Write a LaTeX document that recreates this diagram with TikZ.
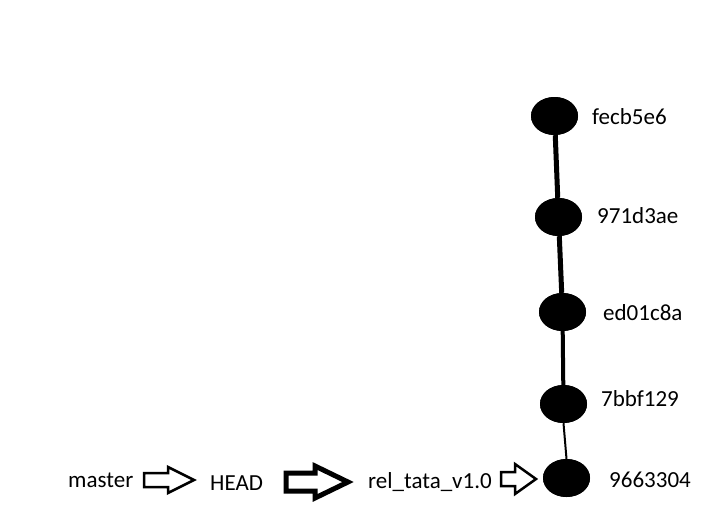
\documentclass[tikz,border=0pt]{standalone}
\usepackage{fontspec}
\setmainfont{Carlito}
\usetikzlibrary{shapes.geometric}
\tikzset{
  commit/.style={ellipse, fill=black, draw=none, minimum width=47pt, minimum height=38pt, inner sep=0pt},
  lbl/.style={anchor=base west, inner sep=0pt, font=\fontsize{23}{27}\selectfont},
  link/.style={draw=black},
  thinarrow/.style={draw=black, line width=2.5pt, line join=miter},
  thickarrow/.style={draw=black, line width=5pt, line join=miter}
}
\begin{document}
\begin{tikzpicture}[x=1pt,y=-1pt]
\useasboundingbox (0,0) rectangle (718,515);
\node[commit] (c1) at (554.5,116) {};
\node[commit] (c2) at (558.5,217) {};
\node[commit] (c3) at (562.5,312) {};
\node[commit] (c4) at (563.5,404) {};
\node[commit] (c5) at (566.5,478) {};
\path[link, line width=5pt] (c1) -- (c2);
\path[link, line width=5pt] (c2) -- (c3);
\path[link, line width=4pt] (c3) -- (c4);
\path[link, line width=2pt] (c4.south) -- (c5.north);
\node[commit] at (c1) {};
\node[commit] at (c2) {};
\node[commit] at (c3) {};
\node[commit] at (c4) {};
\node[commit] at (c5) {};
\node[lbl] (l1) at (592,124.5) {fecb5e6};
\node[lbl] (l2) at (597,223.5) {971d3ae};
\node[lbl] (l3) at (603,320.5) {ed01c8a};
\node[lbl] (l4) at (601,406.5) {7bbf129};
\node[lbl] (l5) at (609,487.5) {9663304};
\node[lbl] (m) at (68,487) {master};
\node[lbl] (h) at (210,490) {HEAD};
\node[lbl] (r) at (368,488) {rel\_tata\_v1.0};
% block arrows
\draw[thinarrow] (144,473) -- (168,473) -- (168,467) -- (194,480) -- (168,493) -- (168,487) -- (144,487) -- cycle;
\draw[thickarrow] (286,473) -- (315,473) -- (315,466) -- (348,482) -- (315,498) -- (315,491) -- (286,491) -- cycle;
\draw[thinarrow] (501,472) -- (515,472) -- (515,464) -- (536,479) -- (515,494) -- (515,486) -- (501,486) -- cycle;
\end{tikzpicture}
\end{document}
